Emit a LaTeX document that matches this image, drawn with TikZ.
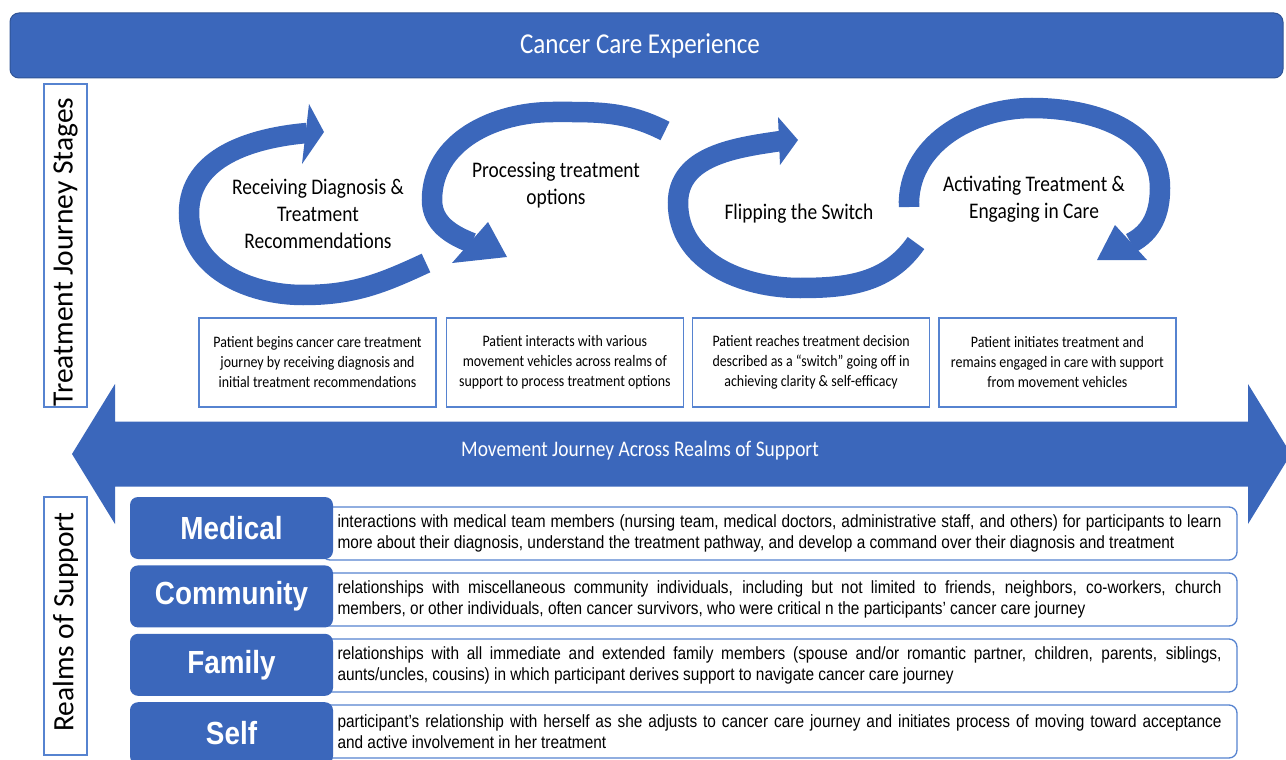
\documentclass[tikz,border=0pt]{standalone}
\usepackage{fontspec}
\setmainfont{Carlito}
\newfontfamily\calib[FakeStretch=0.87]{Carlito}
\newfontfamily\arialn[FakeStretch=0.87]{Liberation Sans}
\usetikzlibrary{positioning}
\definecolor{darkblue}{RGB}{59,103,187}
\definecolor{edgeblue}{RGB}{48,84,150}
\definecolor{lineblue}{RGB}{86,131,208}
\tikzstyle{banner} = [fill=darkblue, draw=edgeblue, line width=1pt, rounded corners=9pt, text=white, minimum width=1273pt, minimum height=65pt, font=\calib\fontsize{28.8}{34}\selectfont]
\tikzstyle{sidebox} = [draw=lineblue, line width=1.3pt, rotate=90, minimum height=43pt, inner sep=0pt, font=\fontsize{29.5}{33}\selectfont]
\tikzstyle{bandline} = [draw=darkblue, line width=20.5pt]
\tikzstyle{tipfill} = [fill=darkblue]
\tikzstyle{stage} = [align=center, font=\calib\fontsize{22.3}{27}\selectfont]
\tikzstyle{stagebox} = [draw=lineblue, line width=1.3pt, fill=white, minimum width=237pt, minimum height=89pt, align=center, font=\calib\fontsize{16}{20}\selectfont]
\tikzstyle{arrowtext} = [text=white, font=\calib\fontsize{22.3}{26}\selectfont]
\tikzstyle{realm} = [fill=darkblue, rounded corners=8pt, minimum width=203pt, minimum height=62pt, text=white, font=\arialn\bfseries\fontsize{32}{36}\selectfont]
\tikzstyle{realmdesc} = [draw=lineblue, line width=1.3pt, fill=white, rounded corners=8pt, minimum width=915pt, minimum height=53pt, inner sep=0pt, align=left, font=\arialn\fontsize{17.7}{21.5}\selectfont]

\begin{document}
\begin{tikzpicture}[x=1pt,y=1pt]
	\useasboundingbox (0,0) rectangle (1286,-760);
	\node[banner] (title) at (646.5,-45.5) {\hspace*{-13pt}Cancer Care Experience};
	\node[sidebox, minimum width=323pt] (stages) at (65.5,-245.5) {\hspace*{-13pt}Treatment Journey Stages};
	\node[sidebox, minimum width=258pt] (realms) at (65.5,-626) {\hspace*{8pt}Realms of Support};

	\draw[bandline] (426,-263) to[out=205,in=0] (303,-295) to[out=180,in=-90] (189,-213) to[out=90,in=185] (307,-133);
	\fill[tipfill] (309,-104) -- (324,-132) -- (302,-164) -- cycle;
	\draw[bandline] (665,-131) to[out=153,in=0] (553,-112) to[out=180,in=90] (432,-200) to[out=-90,in=159] (472,-243);
	\fill[tipfill] (488,-222) -- (507,-257) -- (452,-263) -- cycle;
	\draw[bandline] (916,-243) to[out=235,in=0] (800,-288) to[out=180,in=-90] (678,-203) to[out=90,in=188] (781,-141);
	\fill[tipfill] (778,-117) -- (798,-140) -- (780,-165) -- cycle;
	\draw[bandline] (909,-207) to[out=92,in=180] (1032,-108) to[out=0,in=90] (1160,-188) to[out=-90,in=27] (1131,-243);
	\fill[tipfill] (1115,-225) -- (1097,-260) -- (1147,-260) -- cycle;

	\node[stage] (receiving) at (318,-214) {Receiving Diagnosis \&\\Treatment\\Recommendations};
	\node[stage] (processing) at (556,-185) {Processing treatment\\options};
	\node[stage] (flipping) at (799,-214) {Flipping the Switch};
	\node[stage] (activating) at (1034,-199) {Activating Treatment \&\\Engaging in Care};

	\node[stagebox] (s1) at (317.5,-362.5) {Patient begins cancer care treatment\\journey by receiving diagnosis and\\initial treatment recommendations};
	\node[stagebox, right=9pt of s1] (s2) {Patient interacts with various\\movement vehicles across realms of\\support to process treatment options};
	\node[stagebox, right=8pt of s2] (s3) {Patient reaches treatment decision\\described as a “switch” going off in\\achieving clarity \& self-efficacy};
	\node[stagebox, right=8pt of s3] (s4) {Patient initiates treatment and\\remains engaged in care with support\\from movement vehicles};

	\fill[darkblue] (72,-454) -- (115,-384) -- (115,-421.5) -- (1248,-421.5) -- (1248,-384) -- (1291,-454) -- (1248,-524) -- (1248,-486.5) -- (115,-486.5) -- (115,-524) -- cycle;
	\node[arrowtext] (journey) at (640,-451) {Movement Journey Across Realms of Support};

	\node[realmdesc] (meddesc) at (779.5,-533.5) {\makebox[884pt][s]{interactions with medical team members (nursing team, medical doctors, administrative staff, and others) for participants to learn}\\more about their diagnosis, understand the treatment pathway, and develop a command over their diagnosis and treatment};
	\node[realmdesc] (comdesc) at (779.5,-599.5) {\makebox[884pt][s]{relationships with miscellaneous community individuals, including but not limited to friends, neighbors, co-workers, church}\\members, or other individuals, often cancer survivors, who were critical n the participants’ cancer care journey};
	\node[realmdesc] (famdesc) at (779.5,-665.5) {\makebox[884pt][s]{relationships with all immediate and extended family members (spouse and/or romantic partner, children, parents, siblings,}\\aunts/uncles, cousins) in which participant derives support to navigate cancer care journey};
	\node[realmdesc] (selfdesc) at (779.5,-731.5) {\makebox[884pt][s]{participant’s relationship with herself as she adjusts to cancer care journey and initiates process of moving toward acceptance}\\and active involvement in her treatment};

	\node[realm] (medical) at (231.5,-528) {Medical};
	\node[realm, below=6pt of medical] (community) {Community};
	\node[realm, below=6pt of community] (family) {Family};
	\node[realm, below=6pt of family] (self) {Self};
\end{tikzpicture}
\end{document}
